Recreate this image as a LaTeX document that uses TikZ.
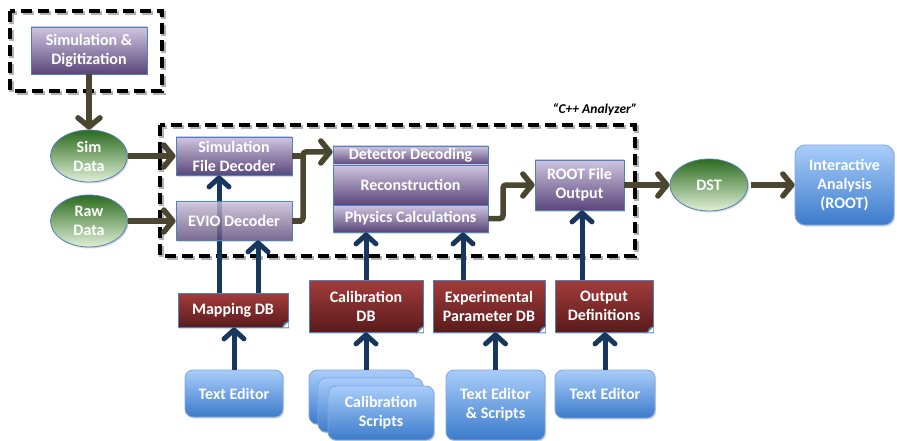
\documentclass[tikz,border=0pt]{standalone}
\usepackage{fontspec}
\setmainfont{Carlito}
\usetikzlibrary{arrows.meta,shapes.geometric,shadows}
\definecolor{bordblue}{HTML}{4F81BD}
\definecolor{purpT}{HTML}{CFC5E0}
\definecolor{purpB}{HTML}{5A467A}
\definecolor{greenT}{HTML}{2C6B1F}
\definecolor{greenB}{HTML}{E0F0D6}
\definecolor{redT}{HTML}{A43C3C}
\definecolor{redB}{HTML}{5A1B1B}
\definecolor{blueT}{HTML}{A9CDFA}
\definecolor{blueB}{HTML}{3C7BCB}
\definecolor{blueBord}{HTML}{7FA8E0}
\definecolor{oliveArr}{HTML}{4B4630}
\definecolor{navyArr}{HTML}{17375E}
\begin{document}
\begin{tikzpicture}[x=1pt,y=-1pt,
  every node/.style={font=\fontsize{16}{19}\selectfont\bfseries, text=white, align=center, inner sep=0pt},
  shad/.style={drop shadow={opacity=0.3,shadow xshift=1.2pt,shadow yshift=-1.5pt}},
  purp/.style={rectangle, draw=bordblue, line width=0.8pt, top color=purpT, bottom color=purpB, shad},
  grn/.style={ellipse, draw=bordblue, line width=0.8pt, top color=greenT, bottom color=greenB, shad},
  redbox/.style={rectangle, draw=bordblue, line width=0.8pt, top color=redT, bottom color=redB, shad},
  bluebox/.style={rectangle, rounded corners=8pt, draw=blueBord, line width=0.8pt, top color=blueT, bottom color=blueB, shad},
  frame/.style={draw=black, line width=4.5pt, dash pattern=on 11pt off 6pt},
  frameshadow/.style={draw=black!30, line width=4.5pt, dash pattern=on 11pt off 6pt},
  oarr/.style={draw=oliveArr, line width=5.5pt, rounded corners=3pt, -{Straight Barb[length=9pt,width=22pt,round]}},
  oline/.style={draw=oliveArr, line width=5.5pt},
  barr/.style={draw=navyArr, line width=5pt, -{Straight Barb[length=9pt,width=20pt,round]}}
]
\useasboundingbox (0,0) rectangle (897,441);

% dashed frames
\draw[frameshadow] (11.5,13) rectangle (163.5,93);
\draw[frame] (10,11) rectangle (162,91);
\draw[frameshadow] (161.5,127) rectangle (636.5,258);
\draw[frame] (160,125) rectangle (635,256);
\node[font=\fontsize{13.5}{15}\selectfont\bfseries\itshape, text=black] (cpplabel) at (595,110) {“C++ Analyzer”};

% top-left
\node[purp, minimum width=116pt, minimum height=47pt] (simdig) at (89,50.5) {Simulation \&\\Digitization};
\node[grn, minimum width=77pt, minimum height=52pt] (simdata) at (89,156) {Sim\\Data};
\node[grn, minimum width=77pt, minimum height=52pt] (rawdata) at (89,221) {Raw\\Data};

% analyzer
\node[purp, minimum width=116pt, minimum height=38pt] (simdec) at (234,156) {Simulation\\File Decoder};
\node[purp, minimum width=155pt, minimum height=19pt] (det) at (410.5,155.5) {Detector Decoding};
\node[purp, minimum width=155pt, minimum height=40pt] (reco) at (410.5,185) {Reconstruction};
\node[purp, minimum width=155pt, minimum height=27pt] (phys) at (410.5,218.5) {Physics Calculations};
\node[purp, minimum width=89pt, minimum height=50pt] (root) at (579.5,185) {ROOT File\\Output};
\node[grn, minimum width=78pt, minimum height=52pt] (dst) at (709,185) {DST};
\node[bluebox, rounded corners=10pt, minimum width=99pt, minimum height=80pt] (ia) at (844.5,185) {Interactive\\Analysis\\(ROOT)};

% databases
\node[redbox, minimum width=110pt, minimum height=34pt] (mapdb) at (233,310) {Mapping DB};
\node[redbox, minimum width=114pt, minimum height=52pt] (caldb) at (366,306) {Calibration\\DB};
\node[redbox, minimum width=112pt, minimum height=52pt] (expdb) at (489,306) {Experimental\\Parameter DB};
\node[redbox, minimum width=98pt, minimum height=52pt] (outdef) at (604,306) {Output\\Definitions};
\foreach \n in {mapdb,caldb,expdb,outdef}{
  \fill[white] (\n.south east) -- ([xshift=-6pt]\n.south east) -- ([yshift=6pt]\n.south east) -- cycle;
  \filldraw[fill=bordblue!60, draw=bordblue, line width=0.5pt] ([xshift=-6pt]\n.south east) -- ([yshift=6pt]\n.south east) -- ([xshift=-4pt,yshift=4pt]\n.south east) -- cycle;
}

% editors
\node[bluebox, minimum width=98pt, minimum height=47pt] (te1) at (234,393.5) {Text Editor};
\node[bluebox, minimum width=105pt, minimum height=54pt] (cs1) at (361.5,397) {};
\node[bluebox, minimum width=105pt, minimum height=54pt] (cs2) at (370.5,405) {};
\node[bluebox, minimum width=106pt, minimum height=54pt] (cs3) at (381,413) {Calibration\\Scripts};
\node[bluebox, minimum width=99pt, minimum height=70pt] (tes) at (495.5,405) {Text Editor\\\& Scripts};
\node[bluebox, minimum width=100pt, minimum height=48pt] (te4) at (605,394) {Text Editor};

% olive data-flow arrows
\draw[oarr] (simdig.south) -- (simdata.north);
\draw[oarr] (simdata.east) -- (simdec.west);
\draw[oarr] (rawdata.east) -- (rawdata.east -| simdec.west);
\coordinate (j1) at (303,152);
\draw[oline] (simdec.east) -- (simdec.east -| j1);
\draw[oarr] (rawdata.east -| simdec.east) -| (j1) -- (j1 -| det.west);
\coordinate (j2) at (503,185);
\draw[oarr] (phys.east) -| (j2) -- (root.west);
\draw[oarr] (root.east) -- (dst.west);
\draw[oarr, shorten <=3pt] (dst.east) -- (ia.west);

% navy arrows
\draw[barr] ([xshift=-14pt]mapdb.north) -- ([xshift=-14pt]mapdb.north |- simdec.south);
\node[purp, fill opacity=0.75, text opacity=1, minimum width=116pt, minimum height=39pt] (evio) at (234,220.5) {EVIO Decoder};
\draw[oline] (rawdata.east -| evio.east) -- ++(10,0);
\draw[barr] ([xshift=25pt]mapdb.north) -- ([xshift=25pt]mapdb.north |- evio.south);
\draw[barr] (caldb.north) -- (caldb.north |- phys.south);
\draw[barr] ([xshift=-26pt]expdb.north) -- ([xshift=-26pt]expdb.north |- phys.south);
\draw[barr] ([xshift=-22pt]outdef.north) -- ([xshift=-22pt]outdef.north |- root.south);
\draw[barr] (te1.north) -- (te1.north |- mapdb.south);
\draw[barr] (caldb.south |- cs1.north) -- (caldb.south);
\draw[barr] (tes.north) -- (tes.north |- expdb.south);
\draw[barr] (te4.north) -- (te4.north |- outdef.south);
\end{tikzpicture}
\end{document}
